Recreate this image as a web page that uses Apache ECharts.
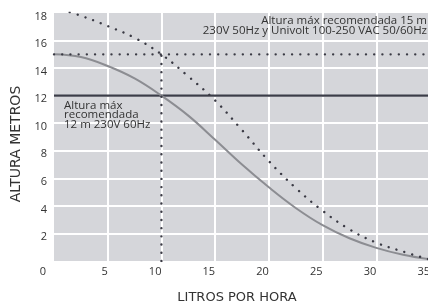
<!DOCTYPE html>
<html>
<head>
<meta http-equiv="content-type" content="text/html; charset=utf-8"/>
<title>Altura vs litros por hora</title>
<style type="text/css">
    html, body { margin: 0; padding: 0; background: #fff; }
    #chart { width: 428px; height: 303px; }
</style>
<script type="text/javascript" src="https://cdn.jsdelivr.net/npm/echarts@6/dist/echarts.min.js"></script>
</head>
<body>
<div id="chart"></div>
<script>
    // caudal (litros por hora) y altura (metros)
    var flowX = [0, 2.5, 5, 7.5, 10, 12.5, 15, 17.5, 20, 22.5, 25, 27.5, 30, 32.5, 35];
    var curve60Hz = [15, 14.8, 14.15, 13.25, 12, 10.55, 8.8, 7.0, 5.35, 3.85, 2.6, 1.65, 0.95, 0.45, 0.12];
    var curve50Hz = [18.4, 17.8, 17.05, 16.2, 15, 13.4, 11.65, 9.5, 7.25, 5.3, 3.65, 2.3, 1.33, 0.68, 0.1];
    var limit60Hz = 12;     // altura max recomendada 60Hz
    var limit50Hz = 15;     // altura max recomendada 50Hz / univolt
    var flowAtLimit = 10;   // caudal en el cruce
    var xTicks = [0, 5, 10, 15, 20, 25, 30, 35];
    var yTicks = [2, 4, 6, 8, 10, 12, 14, 16, 18];

    var textColor = '#333333';
    var dotColor = '#3a3a44';
    var font = 'Open Sans';
    var dots = [0.01, 8.2];

    function pairs(xs, ys) {
        var out = [];
        for (var i = 0; i < xs.length; i++) {
            out.push([xs[i], ys[i]]);
        }
        return out;
    }

    var chart = echarts.init(document.getElementById('chart'), null, { renderer: 'canvas' });

    var option = {
        animation: false,
        textStyle: { fontFamily: font },
        grid: {
            left: 54, top: 13, right: -2, bottom: 42,
            outerBoundsMode: 'none',
            show: true, backgroundColor: '#d5d6da', borderWidth: 0
        },
        xAxis: {
            type: 'value',
            min: xTicks[0], max: xTicks[xTicks.length - 1], interval: 5,
            name: 'LITROS POR HORA',
            nameLocation: 'middle', nameGap: 30,
            nameTextStyle: { fontSize: 13, color: textColor, fontFamily: 'DejaVu Sans', padding: [0, 10, 0, 0] },
            axisLine: { show: false },
            axisTick: { show: false },
            axisLabel: {
                margin: 5, fontSize: 11, color: textColor, align: 'right',
                formatter: function (v) { return v === 0 ? '{z|0}' : String(v); },
                rich: { z: { padding: [0, 8, 0, 0], fontSize: 11, color: textColor } }
            },
            splitLine: { show: true, showMinLine: false, showMaxLine: false, lineStyle: { color: '#ffffff', width: 2 } }
        },
        yAxis: {
            type: 'value',
            min: 0, max: yTicks[yTicks.length - 1], interval: 2,
            name: 'ALTURA METROS',
            nameLocation: 'middle', nameGap: 11,
            nameTextStyle: { fontSize: 14, color: textColor, fontFamily: 'DejaVu Sans', padding: [0, 14, 0, 0] },
            axisLine: { show: false },
            axisTick: { show: false },
            axisLabel: {
                margin: 7, color: textColor,
                showMinLabel: false,
                formatter: function (v) { return '{n|' + v + '}'; },
                rich: { n: { padding: [7, 0, 0, 0], fontSize: 11, color: textColor } }
            },
            splitLine: { show: true, showMinLine: false, showMaxLine: false, lineStyle: { color: '#ffffff', width: 2 } }
        },
        series: [
            {
                type: 'line', name: '60Hz',
                data: pairs(flowX, curve60Hz),
                smooth: 0.4, symbol: 'none',
                lineStyle: { color: '#8c8d92', width: 2 },
                z: 3
            },
            {
                type: 'line', name: '50Hz',
                data: pairs(flowX, curve50Hz),
                smooth: 0.4, symbol: 'none',
                lineStyle: { color: dotColor, width: 2.4, type: dots, cap: 'round' },
                z: 4
            },
            {
                type: 'line', name: 'limite 60Hz',
                data: [[xTicks[0], limit60Hz], [xTicks[xTicks.length - 1], limit60Hz]],
                symbol: 'none',
                lineStyle: { color: '#3b3d48', width: 2.4 },
                z: 2
            },
            {
                type: 'line', name: 'limite 50Hz',
                data: [[xTicks[0], limit50Hz], [xTicks[xTicks.length - 1], limit50Hz]],
                symbol: 'none',
                lineStyle: { color: dotColor, width: 2.4, type: dots, cap: 'round' },
                z: 4
            },
            {
                type: 'line', name: 'caudal',
                data: [[flowAtLimit, 0], [flowAtLimit, limit50Hz]],
                symbol: 'none',
                lineStyle: { color: dotColor, width: 2.4, type: dots, cap: 'round' },
                z: 4
            }
        ],
        graphic: [
            {
                type: 'text', z: 10,
                style: {
                    x: 427, y: 21, text: 'Altura máx recomendada 15 m',
                    align: 'right', verticalAlign: 'middle', fill: textColor,
                    font: '11.5px "' + font + '"'
                }
            },
            {
                type: 'text', z: 10,
                style: {
                    x: 427, y: 30.3, text: '230V 50Hz y Univolt 100-250 VAC 50/60Hz',
                    align: 'right', verticalAlign: 'middle', fill: textColor,
                    font: '11.5px "' + font + '"'
                }
            },
            {
                type: 'text', z: 10,
                style: {
                    x: 64, y: 106, text: 'Altura máx',
                    verticalAlign: 'middle', fill: textColor,
                    font: '11.5px "' + font + '"'
                }
            },
            {
                type: 'text', z: 10,
                style: {
                    x: 64, y: 115.2, text: 'recomendada',
                    verticalAlign: 'middle', fill: textColor,
                    font: '11.5px "' + font + '"'
                }
            },
            {
                type: 'text', z: 10,
                style: {
                    x: 64, y: 124.4, text: '12 m 230V 60Hz',
                    verticalAlign: 'middle', fill: textColor,
                    font: '11.5px "' + font + '"'
                }
            }
        ]
    };

    chart.setOption(option);
</script>
</body>
</html>
